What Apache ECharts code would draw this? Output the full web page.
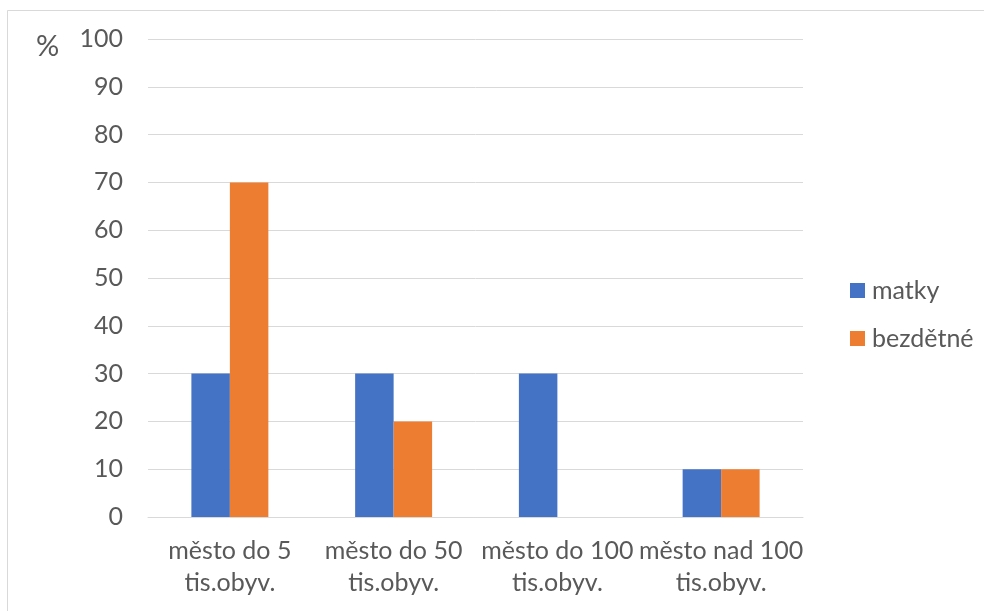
<!DOCTYPE html>
<html>
<head>
<meta charset="utf-8">
<script src="https://cdn.jsdelivr.net/npm/echarts@6/dist/echarts.min.js"></script>
<style>
  html, body { margin: 0; padding: 0; background: #ffffff; }
  #chart { width: 984px; height: 611px; }
</style>
</head>
<body>
<div id="chart"></div>
<script>
// Settlement size categories
const categories = ['město do 5\ntis.obyv.', 'město do 50\ntis.obyv.', 'město do 100\ntis.obyv.', 'město nad 100\ntis.obyv.'];
// Share of respondents (%)
const matky = [30, 30, 30, 10];
const bezdetne = [70, 20, 0, 10];
const seriesNames = ['matky', 'bezdětné'];

const FONT = 'Lato, "Open Sans", sans-serif';
const TEXT = '#595959';
const SIZE = 25;

const chart = echarts.init(document.getElementById('chart'), null, { renderer: 'canvas' });
chart.setOption({
  animation: false,
  backgroundColor: '#ffffff',
  graphic: [
    {
      type: 'rect',
      shape: { x: 7.5, y: 10.5, width: 990, height: 620 },
      style: { fill: 'none', stroke: '#d9d9d9', lineWidth: 1 },
      silent: true
    },
    {
      type: 'text',
      left: 36, top: 32,
      style: { text: '%', font: '29px ' + FONT, fill: TEXT }
    }
  ],
  grid: { left: 148, right: 181, top: 39, bottom: 94, containLabel: false },
  legend: {
    orient: 'vertical',
    left: 845, top: 273,
    itemWidth: 15, itemHeight: 15, itemGap: 23,
    icon: 'rect',
    textStyle: { color: TEXT, fontSize: SIZE, fontFamily: FONT, padding: [0, 0, 0, 2] },
    data: seriesNames
  },
  xAxis: {
    type: 'category',
    data: categories,
    axisLine: { lineStyle: { color: '#d9d9d9', width: 1 } },
    axisTick: { show: false },
    axisLabel: { color: TEXT, fontSize: SIZE, fontFamily: FONT, lineHeight: 32, margin: 18, interval: 0 }
  },
  yAxis: {
    type: 'value',
    min: 0, max: 100, interval: 10,
    axisLine: { show: false },
    axisTick: { show: false },
    splitLine: { lineStyle: { color: '#d9d9d9', width: 1 } },
    axisLabel: { color: TEXT, fontSize: SIZE, fontFamily: FONT, margin: 25 }
  },
  series: [
    { name: seriesNames[0], type: 'bar', data: matky, itemStyle: { color: '#4472C4' }, barGap: '0%', barCategoryGap: '53%' },
    { name: seriesNames[1], type: 'bar', data: bezdetne, itemStyle: { color: '#ED7D31' }, barGap: '0%', barCategoryGap: '53%' }
  ]
});
</script>
</body>
</html>
